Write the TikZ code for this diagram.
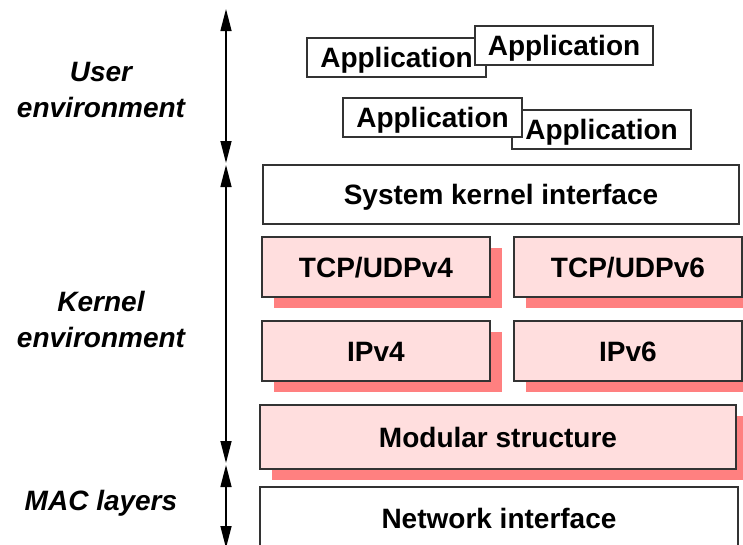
\documentclass[tikz,border=0pt]{standalone}
\usepackage{fontspec}
\setmainfont{Liberation Sans}
\usetikzlibrary{arrows.meta,shadows}
\definecolor{boxpink}{HTML}{FFDEDE}
\definecolor{shadowred}{HTML}{FF8080}
\definecolor{edge}{HTML}{333333}
\tikzset{
  layer/.style={draw=edge, line width=1.2pt, fill=white, rectangle, inner sep=0pt,
    text height=20pt, text depth=0pt,
    font=\fontsize{28}{34}\selectfont\bfseries},
  pinklayer/.style={layer, fill=boxpink,
    drop shadow={shadow xshift=12pt, shadow yshift=-11pt, fill=shadowred, opacity=1}},
  side/.style={align=center, font=\fontsize{28}{36}\selectfont\bfseries\itshape},
  span/.style={line width=1.4pt, {Triangle[length=22pt,width=11pt]}-{Triangle[length=22pt,width=11pt]}}
}
\begin{document}
\begin{tikzpicture}[x=1pt,y=-1pt]
\clip (0,0) rectangle (743,544);
\fill[white] (0,0) rectangle (743,544);
% applications
\node[layer, minimum width=179pt, minimum height=39pt] (app1) at (396.5,57.5) {Application};
\node[layer, minimum width=178pt, minimum height=39pt] (app2) at (564,45.5) {Application};
\node[layer, minimum width=179pt, minimum height=39pt] (app4) at (601.5,129.5) {Application};
\node[layer, minimum width=179pt, minimum height=39pt] (app3) at (432.5,117.5) {Application};
% kernel
\node[layer, minimum width=476pt, minimum height=59pt] (sys) at (501,194.5) {System kernel interface};
\node[pinklayer, minimum width=228pt, minimum height=60pt] (tcp4) at (376,267) {TCP/UDPv4};
\node[pinklayer, minimum width=228pt, minimum height=60pt] (tcp6) at (628,267) {TCP/UDPv6};
\node[pinklayer, minimum width=228pt, minimum height=60pt] (ip4) at (376,351) {IPv4};
\node[pinklayer, minimum width=228pt, minimum height=60pt] (ip6) at (628,351) {IPv6};
\node[pinklayer, minimum width=476pt, minimum height=64pt] (mod) at (498,437) {Modular structure};
\node[layer, minimum width=478pt, minimum height=62pt] (net) at (499,518) {Network interface};
% side labels
\node[side] (user) at (101,90) {User\\environment};
\node[side] (kern) at (101,319) {Kernel\\environment};
\node[side] (mac) at (101,503) {MAC layers};
% spans
\coordinate (a1) at (226,9);
\coordinate (a2) at (226,163);
\coordinate (b1) at (226,165);
\coordinate (b2) at (226,463);
\coordinate (c1) at (226,465);
\coordinate (c2) at (226,548);
\draw[span] (a1) -- (a2);
\draw[span] (b1) -- (b2);
\draw[span] (c1) -- (c2);
\end{tikzpicture}
\end{document}
